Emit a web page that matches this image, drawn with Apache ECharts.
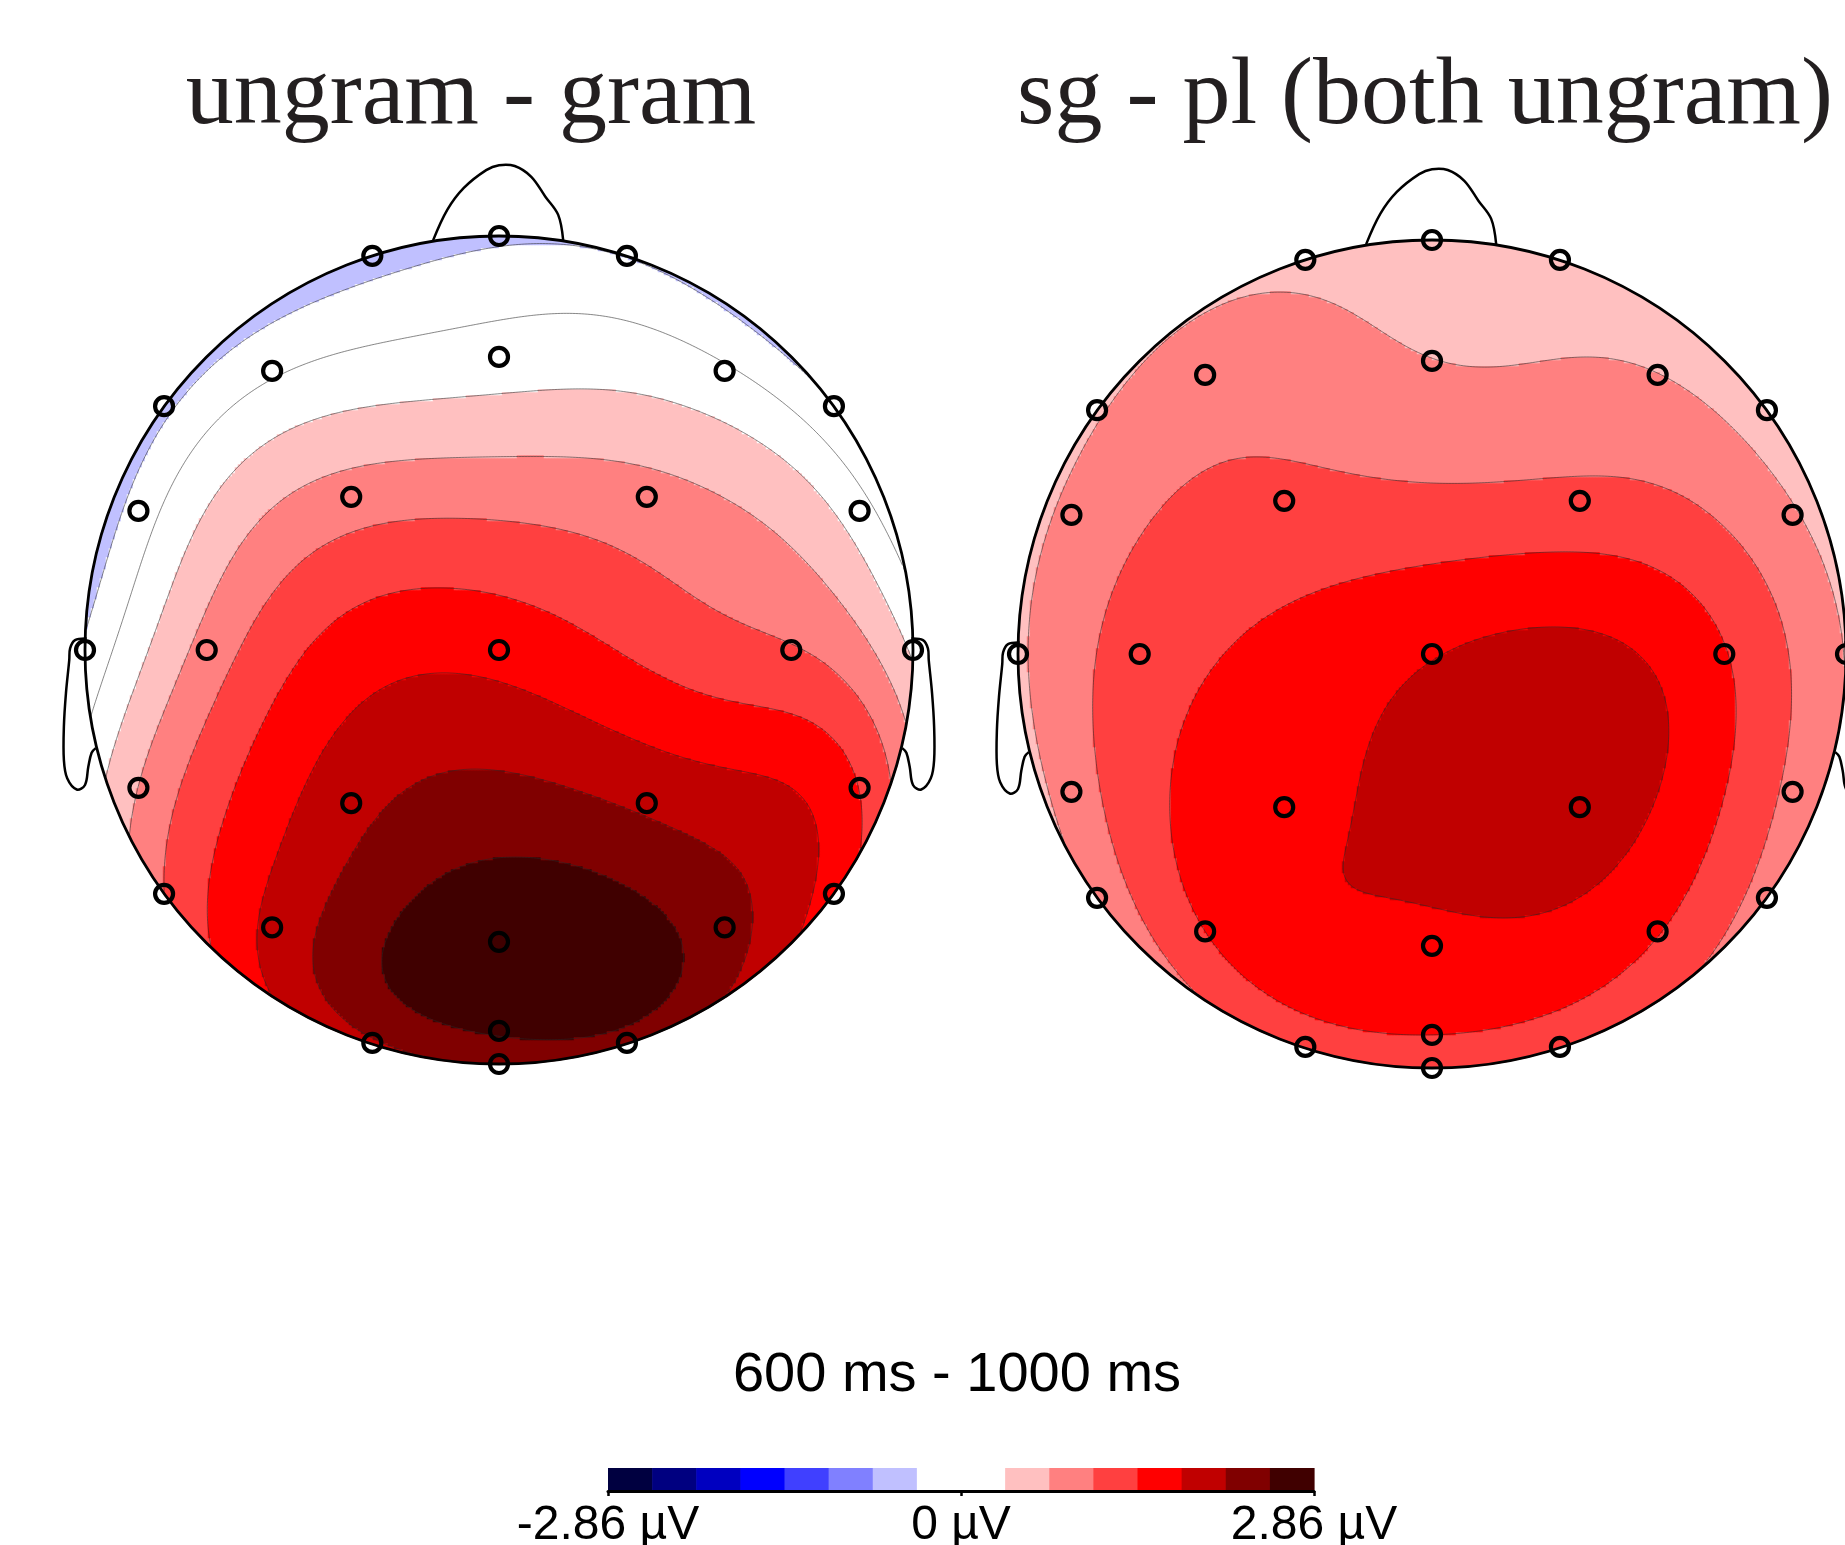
<!DOCTYPE html>
<html>
<head>
<meta charset="utf-8">
<script src="https://cdn.jsdelivr.net/npm/echarts@6/dist/echarts.min.js"></script>
<style>
html,body{margin:0;padding:0;background:#ffffff;}
#chart{width:1845px;height:1545px;}
</style>
</head>
<body>
<div id="chart"></div>
<script>
// ================= DATA =================
const panelTitles = ['ungram - gram', 'sg - pl (both ungram)'];
const timeWindowLabel = '600 ms - 1000 ms';
const unitLabel = 'µV';
const colorLimit = 2.86;
const colorbarTicks = [-2.86, 0, 2.86];

// electrode layout (head-normalised: x right, y towards nose, rim = 1)
const electrodeNames = ['Fpz','Fp1','Fp2','F7','F3','Fz','F4','F8','FT7','FC3','FC4','FT8',
  'T7','C3','Cz','C4','T8','TP7','CP3','CP4','TP8','P7','P3','Pz','P4','P8','O1','Oz','O2','Iz'];
const electrodeX = [0,-0.306,0.309,-0.809,-0.548,0,0.545,0.809,-0.871,-0.357,0.357,0.871,
  -1.0,-0.706,0,0.706,1.0,-0.871,-0.357,0.357,0.871,-0.809,-0.548,0,0.545,0.809,-0.306,0,0.309,0];
const electrodeY = [1.0,0.952,0.952,0.589,0.674,0.708,0.674,0.589,0.336,0.370,0.370,0.336,
  0,0,0,0,0,-0.333,-0.370,-0.370,-0.333,-0.589,-0.670,-0.705,-0.670,-0.589,-0.949,-0.920,-0.949,-1.0];

// mean amplitude (µV) at each electrode, 600-1000 ms
const ungramMinusGram = [-0.42,-0.50,-0.37,-0.45,-0.05,0.17,0.05,-0.33,-0.20,0.88,0.84,0.15,
  -0.30,0.85,1.66,1.10,0.30,0.72,2.02,2.08,1.42,1.07,1.88,2.80,2.29,1.60,2.10,2.55,2.35,2.20];
const sgMinusPlUngram = [0.50,0.62,0.50,0.68,0.88,0.72,0.72,0.55,0.80,1.17,1.18,0.75,
  0.65,1.23,1.77,1.45,0.70,0.88,1.72,1.97,0.98,0.80,1.43,1.74,1.45,0.92,1.20,1.43,1.20,1.20];

// 16 contour level colours from -2.86 to 2.86 µV
const levelColors = ['#000040','#000080','#0000c0','#0000ff','#4040ff','#8080ff','#c0c0ff','#ffffff',
  '#ffffff','#ffc0c0','#ff8080','#ff4040','#ff0000','#c00000','#800000','#400000'];

// ================= LAYOUT =================
const heads = [{cx:499, cy:650, R:414}, {cx:1432, cy:654, R:414}];
const N = 276; // interpolation grid resolution (3 px cells)
const nLevels = levelColors.length;
const step = 2 * colorLimit / nLevels;
const levelEdges = levelColors.map((c, k) => -colorLimit + k * step).concat([colorLimit]);

// ---- topographic surface: spherical spline (Perrin, order 4, Legendre degree 10) ----
function solveLinear(A) {
  const n = A.length;
  for (let c = 0; c < n; c++) {
    let p = c;
    for (let r = c + 1; r < n; r++) if (Math.abs(A[r][c]) > Math.abs(A[p][c])) p = r;
    const tmp = A[c]; A[c] = A[p]; A[p] = tmp;
    for (let r = 0; r < n; r++) {
      if (r === c) continue;
      const f = A[r][c] / A[c][c];
      if (f !== 0) for (let k = c; k <= n; k++) A[r][k] -= f * A[c][k];
    }
  }
  return A.map((row, i) => row[n] / row[i]);
}
function toSphere(x, y) {
  const th = Math.hypot(x, y) * Math.PI / 2, ph = Math.atan2(y, x);
  return [Math.sin(th) * Math.cos(ph), Math.sin(th) * Math.sin(ph), Math.cos(th)];
}
function sphericalSpline(xs, ys, vs, m, nTerms) {
  const coef = [];
  for (let n = 1; n <= nTerms; n++) coef.push((2 * n + 1) / Math.pow(n * (n + 1), m) / (4 * Math.PI));
  const g = c => {
    c = Math.max(-1, Math.min(1, c));
    let p0 = 1, p1 = c, s = coef[0] * p1;
    for (let n = 1; n < nTerms; n++) {
      const p2 = ((2 * n + 1) * c * p1 - n * p0) / (n + 1);
      s += coef[n] * p2; p0 = p1; p1 = p2;
    }
    return s;
  };
  const E = xs.map((x, i) => toSphere(x, ys[i]));
  const n = E.length;
  const dot = (a, b) => a[0] * b[0] + a[1] * b[1] + a[2] * b[2];
  const A = [];
  for (let i = 0; i < n; i++) {
    const row = [];
    for (let j = 0; j < n; j++) row.push(g(dot(E[i], E[j])));
    row.push(1, vs[i]);
    A.push(row);
  }
  const last = []; for (let j = 0; j < n; j++) last.push(1); last.push(0, 0); A.push(last);
  const sol = solveLinear(A);
  const C = sol.slice(0, n), c0 = sol[n];
  return (x, y) => {
    const e = toSphere(x, y);
    let s = c0;
    for (let i = 0; i < n; i++) s += C[i] * g(dot(e, E[i]));
    return s;
  };
}
const u = i => -1 + (2 * i + 1) / N;
const catIdx = Array.from({length: N}, (_, i) => String(i));

function buildField(values) {
  const f = sphericalSpline(electrodeX, electrodeY, values, 4, 10);
  const field = [];
  for (let j = 0; j < N; j++) {
    const row = [];
    for (let i = 0; i < N; i++) row.push(f(u(i), u(j)));
    field.push(row);
  }
  return field;
}
function heatData(field) {
  const out = [];
  const lim = Math.pow(1 + 1.5 / N, 2);
  for (let j = 0; j < N; j++) for (let i = 0; i < N; i++) {
    const x = u(i), y = u(j);
    if (x * x + y * y <= lim) out.push([i, j, +field[j][i].toFixed(4)]);
  }
  return out;
}
function contourSegments(field) {
  const th = levelEdges.slice(1, -1);
  const segs = [];
  for (let j = 0; j < N - 1; j++) for (let i = 0; i < N - 1; i++) {
    const x0 = u(i), x1 = u(i + 1), y0 = u(j), y1 = u(j + 1);
    const mx = (x0 + x1) / 2, my = (y0 + y1) / 2;
    if (mx * mx + my * my > 0.997) continue;
    const a = field[j][i], b = field[j][i + 1], c = field[j + 1][i + 1], d = field[j + 1][i];
    for (const t of th) {
      const pts = [];
      if ((a >= t) !== (b >= t)) pts.push([x0 + (t - a) / (b - a) * (x1 - x0), y0]);
      if ((b >= t) !== (c >= t)) pts.push([x1, y0 + (t - b) / (c - b) * (y1 - y0)]);
      if ((c >= t) !== (d >= t)) pts.push([x1 + (t - c) / (d - c) * (x0 - x1), y1]);
      if ((d >= t) !== (a >= t)) pts.push([x0, y1 + (t - d) / (a - d) * (y0 - y1)]);
      if (pts.length >= 2) segs.push([pts[0][0], pts[0][1], pts[1][0], pts[1][1]]);
      if (pts.length === 4) segs.push([pts[2][0], pts[2][1], pts[3][0], pts[3][1]]);
    }
  }
  return segs;
}

const fields = [buildField(ungramMinusGram), buildField(sgMinusPlUngram)];
const segments = fields.map(contourSegments);

// head decoration outlines (head-normalised units)
const noseOutline = [[-0.159,0.990],[-0.125,1.063],[-0.085,1.116],[-0.031,1.159],[0,1.171],
  [0.038,1.169],[0.078,1.143],[0.112,1.095],[0.143,1.051],[0.155,0.990]];
const earOutline = [[-0.996,0.028],[-1.024,0.024],[-1.036,0.004],[-1.038,-0.024],[-1.046,-0.104],
  [-1.051,-0.185],[-1.051,-0.266],[-1.043,-0.310],[-1.020,-0.337],[-1.0,-0.326],[-0.992,-0.282],
  [-0.984,-0.248],[-0.974,-0.237]];

function overlayRenderer(h) {
  return function (params, api) {
    const o = api.coord([0, 0]);
    const s = api.size([1, 1]);
    const P = (x, y) => [o[0] + x * s[0], o[1] - y * s[1]];
    let d = '';
    for (const sg of segments[h]) {
      const p = P(sg[0], sg[1]), q = P(sg[2], sg[3]);
      d += 'M' + p[0].toFixed(2) + ' ' + p[1].toFixed(2) + 'L' + q[0].toFixed(2) + ' ' + q[1].toFixed(2);
    }
    const R = s[0];
    return {
      type: 'group',
      children: [
        {type: 'circle', shape: {cx: o[0], cy: o[1], r: R + 6}, style: {fill: 'none', stroke: '#ffffff', lineWidth: 10}},
        {type: 'path', shape: {pathData: d}, style: {fill: 'none', stroke: 'rgba(40,40,40,0.7)', lineWidth: 0.8}},
        {type: 'circle', shape: {cx: o[0], cy: o[1], r: R}, style: {fill: 'none', stroke: '#000', lineWidth: 2.8}},
        {type: 'polyline', shape: {points: noseOutline.map(p => P(p[0], p[1])), smooth: 0.35}, style: {fill: 'none', stroke: '#000', lineWidth: 2.5}},
        {type: 'polyline', shape: {points: earOutline.map(p => P(p[0], p[1])), smooth: 0.35}, style: {fill: 'none', stroke: '#000', lineWidth: 2.5}},
        {type: 'polyline', shape: {points: earOutline.map(p => P(-p[0], p[1])), smooth: 0.35}, style: {fill: 'none', stroke: '#000', lineWidth: 2.5}}
      ]
    };
  };
}

const grids = [], xAxes = [], yAxes = [], series = [];
heads.forEach((hd, h) => {
  const rect = {left: hd.cx - hd.R, top: hd.cy - hd.R, width: 2 * hd.R, height: 2 * hd.R,
    containLabel: false, outerBoundsMode: 'none'};
  grids.push(Object.assign({}, rect), Object.assign({}, rect));
  const gHeat = 2 * h, gVal = 2 * h + 1;
  xAxes.push({type: 'category', gridIndex: gHeat, data: catIdx, show: false});
  yAxes.push({type: 'category', gridIndex: gHeat, data: catIdx, show: false});
  xAxes.push({type: 'value', gridIndex: gVal, min: -1, max: 1, show: false});
  yAxes.push({type: 'value', gridIndex: gVal, min: -1, max: 1, show: false});
});
grids.push({left: 608, top: 1468, width: 706, height: 23, containLabel: false, outerBoundsMode: 'none'});
xAxes.push({
  type: 'value', gridIndex: 4, min: -colorLimit, max: colorLimit, interval: colorLimit, z: 10,
  axisLine: {show: true, lineStyle: {color: '#000', width: 3}},
  axisTick: {show: true, length: 5, lineStyle: {color: '#000', width: 2.5}},
  splitLine: {show: false},
  axisLabel: {
    show: true, margin: 11, color: '#000', fontFamily: 'Liberation Sans', fontSize: 48,
    showMinLabel: true, showMaxLabel: true, hideOverlap: false,
    formatter: v => (Math.abs(v) < 1e-9 ? '0' : colorbarTicks.reduce((a, t) => Math.abs(t - v) < Math.abs(a - v) ? t : a).toFixed(2)) + ' ' + unitLabel
  }
});
yAxes.push({type: 'value', gridIndex: 4, min: 0, max: 1, show: false});

// heatmaps (series 0,1)
heads.forEach((hd, h) => {
  series.push({
    type: 'heatmap', xAxisIndex: 2 * h, yAxisIndex: 2 * h, data: heatData(fields[h]),
    progressive: 0, silent: true, z: 1, emphasis: {disabled: true}
  });
});
// overlays: contour lines + head outline (series 2,3)
heads.forEach((hd, h) => {
  series.push({
    type: 'custom', xAxisIndex: 2 * h + 1, yAxisIndex: 2 * h + 1, data: [[0, 0]],
    renderItem: overlayRenderer(h), clip: false, silent: true, z: 3
  });
});
// electrodes (series 4,5)
heads.forEach((hd, h) => {
  series.push({
    type: 'scatter', xAxisIndex: 2 * h + 1, yAxisIndex: 2 * h + 1,
    data: electrodeX.map((x, i) => [x, electrodeY[i], electrodeNames[i]]),
    symbol: 'circle', symbolSize: 18, clip: false, silent: true, z: 5,
    itemStyle: {color: 'rgba(0,0,0,0)', borderColor: '#000', borderWidth: 4.2, opacity: 1}
  });
});
// colorbar (series 6)
series.push({
  type: 'custom', xAxisIndex: 2 * heads.length, yAxisIndex: 2 * heads.length, silent: true, z: 2,
  data: levelColors.map((c, k) => [levelEdges[k], levelEdges[k + 1], k]),
  renderItem: (params, api) => {
    const p0 = api.coord([api.value(0), 1]);
    const p1 = api.coord([api.value(1), 0]);
    return {type: 'rect', shape: {x: p0[0], y: p0[1], width: p1[0] - p0[0] + 0.6, height: p1[1] - p0[1]},
      style: {fill: levelColors[api.value(2)]}};
  }
});

const chart = echarts.init(document.getElementById('chart'), null, {renderer: 'canvas'});
chart.setOption({
  animation: false,
  backgroundColor: '#ffffff',
  grid: grids,
  xAxis: xAxes,
  yAxis: yAxes,
  visualMap: {
    type: 'piecewise', show: false, seriesIndex: [0, 1], dimension: 2,
    pieces: levelColors.map((c, k) => {
      const p = {color: c};
      if (k > 0) p.gte = levelEdges[k];
      if (k < nLevels - 1) p.lt = levelEdges[k + 1];
      return p;
    })
  },
  graphic: [
    {type: 'text', x: 471, y: 98, silent: true, style: {text: panelTitles[0], font: '96px "Liberation Serif"', fill: '#231f20', align: 'center', verticalAlign: 'middle'}},
    {type: 'text', x: 1425, y: 98, silent: true, style: {text: panelTitles[1], font: '96px "Liberation Serif"', fill: '#231f20', align: 'center', verticalAlign: 'middle'}},
    {type: 'text', x: 957, y: 1376, silent: true, style: {text: timeWindowLabel, font: '56px "Liberation Sans"', fill: '#000', align: 'center', verticalAlign: 'middle'}}
  ],
  series: series
});
</script>
</body>
</html>
